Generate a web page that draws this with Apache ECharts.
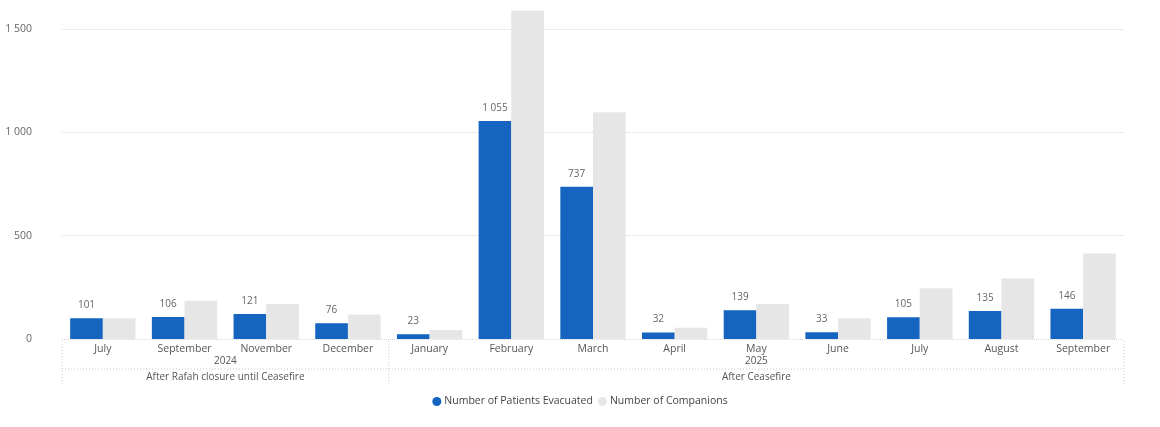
<!DOCTYPE html>
<html>
<head>
<meta charset="utf-8">
<script src="https://cdn.jsdelivr.net/npm/echarts@6/dist/echarts.min.js"></script>
<style>
  html, body { margin: 0; padding: 0; background: #fff; }
  #chart { width: 1160px; height: 427px; }
</style>
</head>
<body>
<div id="chart"></div>
<script>
// mois affichés sur l'axe
const months = ["July", "September", "November", "December", "January", "February",
  "March", "April", "May", "June", "July", "August", "September"];
const patients = [101, 106, 121, 76, 23, 1055, 737, 32, 139, 33, 105, 135, 146];
const companions = [100, 185, 169, 119, 43, 1590, 1097, 55, 169, 100, 246, 293, 414];

// groupes hiérarchiques : [premier index, dernier index, libellé]
const years = [[0, 3, "2024"], [4, 12, "2025"]];
const periods = [[0, 3, "After Rafah closure until Ceasefire"], [4, 12, "After Ceasefire"]];

const fontFam = "'Open Sans', 'Noto Sans', sans-serif";
const fmt = (v) => String(v).replace(/\B(?=(\d{3})+(?!\d))/g, " ");

const chart = echarts.init(document.getElementById("chart"));

chart.setOption({
  animation: false,
  grid: { left: 62, right: 36, top: 29, bottom: 88 },
  legend: {
    bottom: 15,
    left: "center",
    icon: "circle",
    itemWidth: 9,
    itemHeight: 9,
    itemGap: 5,
    textStyle: { color: "#444", fontSize: 10.5, fontFamily: fontFam, padding: [0, 0, 0, -2] },
    data: ["Number of Patients Evacuated", "Number of Companions"],
  },
  xAxis: {
    type: "category",
    data: months,
    axisLine: { show: false },
    axisTick: { show: false },
    axisLabel: { color: "#555", fontSize: 10.5, fontFamily: fontFam, margin: 5, interval: 0 },
  },
  yAxis: {
    type: "value",
    min: 0,
    max: 1500,
    interval: 500,
    axisLabel: { color: "#666", fontSize: 10.5, fontFamily: fontFam, formatter: fmt, margin: 30 },
    splitLine: { lineStyle: { type: "dotted", color: "#d8d8d8" } },
  },
  series: [
    {
      name: "Number of Patients Evacuated",
      type: "bar",
      data: patients,
      clip: false,
      barGap: 0,
      barCategoryGap: "20%",
      itemStyle: { color: "#1565C0" },
      label: {
        show: true,
        position: "top",
        distance: 8,
        color: "#666",
        fontSize: 10,
        fontFamily: fontFam,
        formatter: (p) => fmt(p.value),
      },
    },
    {
      name: "Number of Companions",
      type: "bar",
      data: companions,
      clip: false,
      barGap: 0,
      barCategoryGap: "20%",
      itemStyle: { color: "#E6E6E6" },
    },
  ],
});

// Étiquettes hiérarchiques (année / période) placées à l'aide des échelles de l'axe
function drawHierarchy() {
  const c0 = chart.convertToPixel({ xAxisIndex: 0 }, 0);
  const c1 = chart.convertToPixel({ xAxisIndex: 0 }, 1);
  const w = c1 - c0;
  const base = chart.convertToPixel({ yAxisIndex: 0 }, 0);
  const edge = (i) => c0 + (i - 0.5) * w;
  const yearY = base + 22;
  const lineY = base + 30;
  const periodY = base + 38;
  const bottomY = base + 46;
  const line = { stroke: "#ccc", lineWidth: 1, lineDash: [1, 2] };
  const els = [];
  const bounds = [0, years[1][0], months.length];
  bounds.forEach((b) => {
    els.push({ type: "line", silent: true,
      shape: { x1: edge(b), y1: base + 2, x2: edge(b), y2: bottomY }, style: line });
  });
  els.push({ type: "line", silent: true,
    shape: { x1: edge(0), y1: lineY, x2: edge(months.length), y2: lineY }, style: line });
  years.forEach(([a, b, t]) => {
    els.push({ type: "text", silent: true,
      x: (edge(a) + edge(b + 1)) / 2, y: yearY,
      style: { text: t, fill: "#555", fontSize: 10, fontFamily: fontFam, align: "center", verticalAlign: "middle" } });
  });
  periods.forEach(([a, b, t]) => {
    els.push({ type: "text", silent: true,
      x: (edge(a) + edge(b + 1)) / 2, y: periodY,
      style: { text: t, fill: "#555", fontSize: 10, fontFamily: fontFam, align: "center", verticalAlign: "middle" } });
  });
  chart.setOption({ graphic: els });
}
drawHierarchy();
</script>
</body>
</html>
